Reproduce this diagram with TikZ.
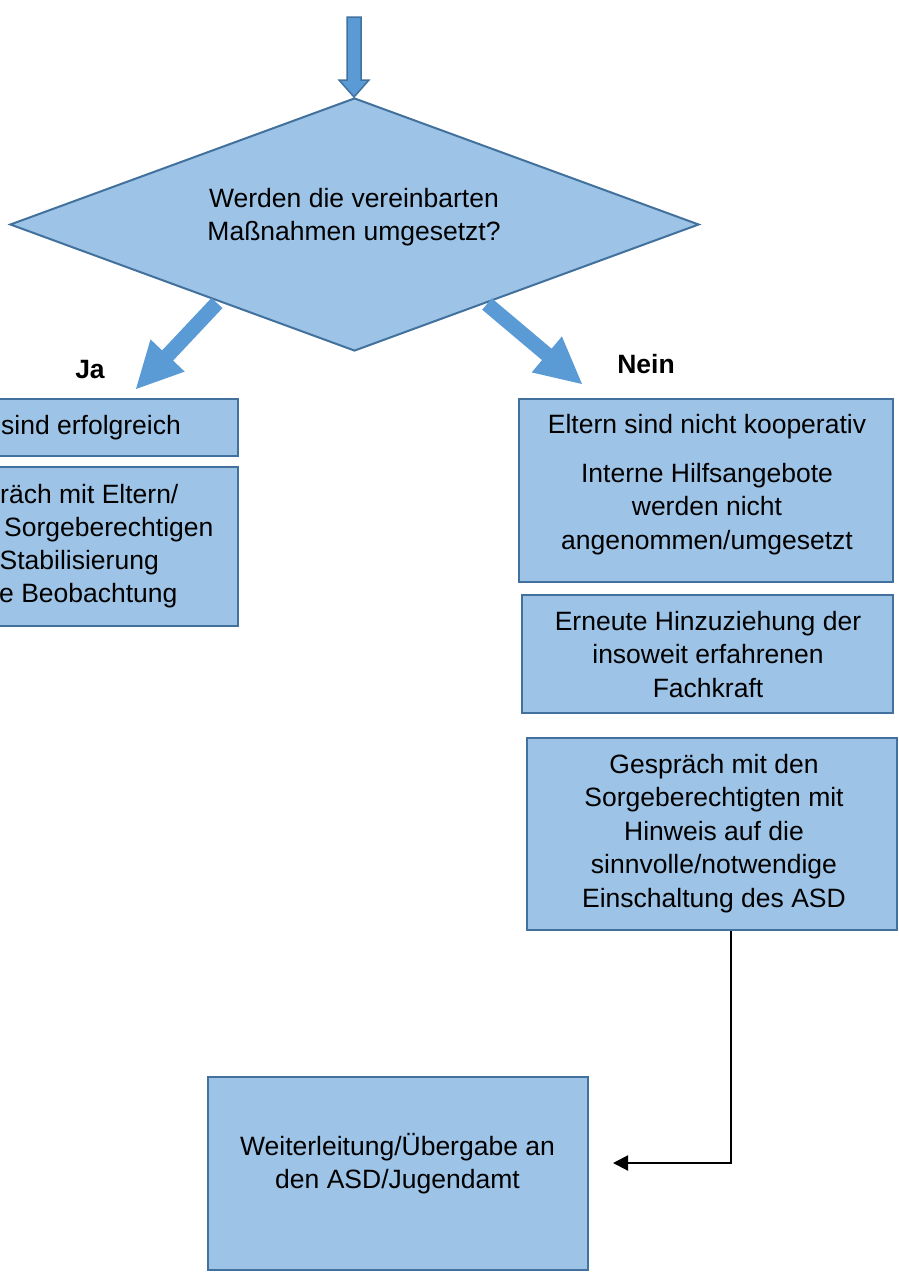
\documentclass[tikz,border=0pt]{standalone}
\usepackage{fontspec}
\setmainfont{Liberation Sans}
\usetikzlibrary{shapes.geometric,arrows.meta}
\definecolor{boxfill}{HTML}{9DC3E6}
\definecolor{bdr}{HTML}{41719C}
\definecolor{arrowfill}{HTML}{5B9BD5}
\newcommand\myfs{\fontsize{26.5}{33.5}\selectfont}
\tikzset{
  box/.style={draw=bdr, fill=boxfill, line width=2pt, rectangle, inner sep=0pt},
  txt/.style={font=\myfs, inner sep=0pt, anchor=base},
  ltxt/.style={font=\myfs, inner sep=0pt, anchor=base west},
  lbl/.style={font=\myfs\bfseries, inner sep=0pt, anchor=base},
  blockarrow/.style={fill=arrowfill, draw=none},
  toparrow/.style={fill=arrowfill, draw=bdr, line width=1.5pt},
  conn/.style={draw=black, line width=2pt, -{Triangle[length=15pt,width=15pt]}}
}
\begin{document}
\begin{tikzpicture}[x=1pt,y=-1pt]
\useasboundingbox (0,0) rectangle (899,1282);
\clip (0,0) rectangle (899,1282);

% top arrow
\draw[toparrow] (347,17) -- (361,17) -- (361,80) -- (369,80) -- (354,97) -- (339,80) -- (347,80) -- cycle;

% decision diamond
\node[diamond, draw=bdr, fill=boxfill, line width=2pt, inner sep=0pt, aspect=2.72,
      minimum width=689pt, minimum height=253pt] (Q) at (354.5,224.5) {};
\node[txt] (Qt) at (354,207) {\begin{tabular}[t]{@{}c@{}}Werden die vereinbarten\\ Maßnahmen umgesetzt?\end{tabular}};

% block arrows
\coordinate (jatip) at (136,389);
\coordinate (neintip) at (582,384);
\path[blockarrow] (211.5,297.9) -- (162.1,350.4) -- (150.5,339.4) -- (jatip) -- (184.7,371.6) -- (173.1,360.6) -- (222.5,308.1) -- cycle;
\path[blockarrow] (491.8,298.3) -- (551.6,348.7) -- (561.9,336.4) -- (neintip) -- (531.7,372.4) -- (542.0,360.1) -- (482.2,309.7) -- cycle;

\node[lbl] (ja) at (90,378) {Ja};
\node[lbl] (nein) at (646,373) {Nein};

% left boxes (cut off at the left edge)
\node[box, minimum width=258pt, minimum height=57pt] (L1) at (109,427.5) {};
\node[ltxt] (L1t) at (1,434) {sind erfolgreich};
\node[box, minimum width=258pt, minimum height=159pt] (L2) at (109,546.5) {};
\node[ltxt] (L2a) at (0,503) {räch mit Eltern/};
\node[ltxt] (L2b) at (4,536) {Sorgeberechtigen};
\node[ltxt] (L2c) at (-0.5,569) {Stabilisierung};
\node[ltxt] (L2d) at (-1,602) {e Beobachtung};

% right boxes
\node[box, minimum width=374pt, minimum height=183pt] (A) at (706,490.5) {};
\node[txt] (At) at (707,433) {\begin{tabular}[t]{@{}c@{}}Eltern sind nicht kooperativ\\[15.5pt] Interne Hilfsangebote\\ werden nicht\\ angenommen/umgesetzt\end{tabular}};

\node[box, minimum width=371pt, minimum height=118pt] (B) at (707.5,654) {};
\node[txt] (Bt) at (708,630) {\begin{tabular}[t]{@{}c@{}}Erneute Hinzuziehung der\\ insoweit erfahrenen\\ Fachkraft\end{tabular}};

\node[box, minimum width=370pt, minimum height=192pt] (C) at (712,834) {};
\node[txt] (Ct) at (714,773) {\begin{tabular}[t]{@{}c@{}}Gespräch mit den\\ Sorgeberechtigten mit\\ Hinweis auf die\\ sinnvolle/notwendige\\ Einschaltung des ASD\end{tabular}};

\node[box, minimum width=380pt, minimum height=193pt] (D) at (398,1173.5) {};
\node[txt] (Dt) at (397.5,1155) {\begin{tabular}[t]{@{}c@{}}Weiterleitung/Übergabe an\\ den ASD/Jugendamt\end{tabular}};

% connector
\coordinate (cend) at (613,1163);
\draw[conn] ([xshift=19pt]C.south) |- (cend);
\end{tikzpicture}
\end{document}
